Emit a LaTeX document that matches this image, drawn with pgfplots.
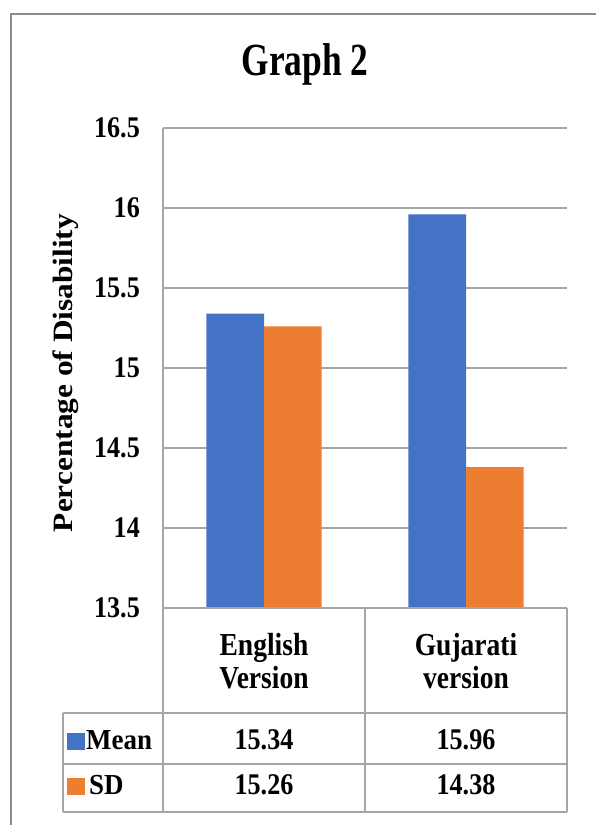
\documentclass[border=0pt]{standalone}
\usepackage{pgfplots}
\pgfplotsset{compat=1.18}
\usepackage{graphicx}
\usepackage{fontspec}
\setmainfont{Liberation Serif}
\newcommand\hs[2]{\scalebox{#1}[1]{#2}}
\definecolor{xlblue}{HTML}{4472C4}
\definecolor{xlorange}{HTML}{ED7D31}
\definecolor{gridgray}{HTML}{A6A6A6}
\definecolor{framegray}{HTML}{8C8C8C}
\begin{document}
\begin{tikzpicture}[x=1pt,y=1pt]
\useasboundingbox (0,0) rectangle (595,825);
\draw[framegray, line width=1.5pt] (11,-5) -- (11,811) -- (600,811);
\begin{axis}[
  at={(163pt,217pt)}, anchor=south west,
  width=404pt, height=480pt, scale only axis,
  xmin=0, xmax=2, ymin=13.5, ymax=16.5,
  ytick={13.5,14,14.5,15,15.5,16,16.5},
  yticklabel={\hs{0.87}{\pgfmathprintnumber{\tick}}},
  xtick={0.5,1.5}, xticklabels={{\hs{0.86}{English}\\\hs{0.86}{Version}},{\hs{0.86}{Gujarati}\\\hs{0.86}{version}}},
  xticklabel style={font=\fontsize{32}{33}\selectfont\bfseries, align=center, inner sep=0pt, anchor=north, yshift=-25pt},
  yticklabel style={font=\fontsize{30}{30}\selectfont\bfseries, inner sep=0pt, anchor=east, xshift=-23pt},
  /pgf/number format/assume math mode=true,
  major tick length=0pt,
  axis line style={draw=none},
  ymajorgrids, grid style={gridgray, line width=1.5pt},
  ybar=0pt, bar width=0.285,
]
\addplot[fill=xlblue, draw=none] coordinates {(0.5,15.34) (1.5,15.96)};
\addplot[fill=xlorange, draw=none] coordinates {(0.5,15.26) (1.5,14.38)};
\end{axis}
\begin{scope}[gridgray, line width=2pt]
\draw (163,697) -- (163,13);
\draw (365,217) -- (365,13);
\draw (567,217) -- (567,13);
\draw (163,217) -- (567,217);
\draw (63,112) -- (567,112);
\draw (63,61) -- (567,61);
\draw (63,13) -- (567,13);
\draw (63,112) -- (63,13);
\end{scope}
\node[anchor=base, font=\bfseries\fontsize{46}{46}\selectfont] at (305,749) {\hs{0.77}{Graph 2}};
\node[rotate=90, font=\bfseries\fontsize{28}{28}\selectfont] at (65.5,452) {\hs{1.12}{Percentage of Disability}};
\fill[xlblue] (67,75) rectangle (85,92);
\fill[xlorange] (67,30) rectangle (85,47);
\node[anchor=base west, inner sep=0pt, font=\fontsize{29}{29}\selectfont\bfseries] at (86,75) {\hs{0.93}{Mean}};
\node[anchor=base west, inner sep=0pt, font=\fontsize{29}{29}\selectfont\bfseries] at (89,30) {\hs{0.93}{SD}};
\begin{scope}[every node/.style={anchor=base, inner sep=0pt, font=\fontsize{30}{30}\selectfont\bfseries}]
\node at (264,75) {\hs{0.87}{15.34}};
\node at (466,75) {\hs{0.87}{15.96}};
\node at (264,30) {\hs{0.87}{15.26}};
\node at (466,30) {\hs{0.87}{14.38}};
\end{scope}
\end{tikzpicture}
\end{document}
